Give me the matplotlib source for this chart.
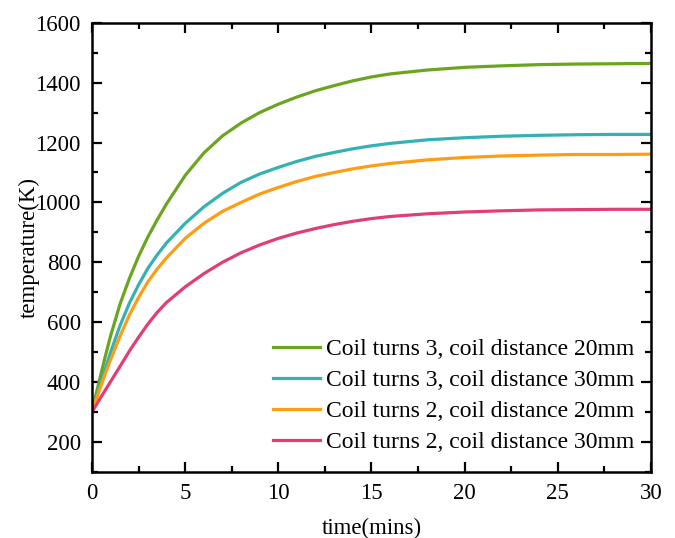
import matplotlib.pyplot as plt
from matplotlib.ticker import MultipleLocator

plt.rcParams['font.family'] = ['Liberation Serif', 'DejaVu Serif']

# time (mins)
t = [0, 0.25, 0.5, 0.75, 1, 1.5, 2, 2.5, 3, 3.5, 4, 5, 6, 7, 8, 9, 10, 11, 12, 13, 14, 15, 16,
     18, 20, 22, 24, 26, 28, 30]

# temperature (K)
turns3_20mm = [300, 368, 432, 495, 555, 660, 745, 820, 885, 942, 995, 1090, 1165, 1222, 1265, 1300, 1328,
               1352, 1373, 1390, 1406, 1419, 1429, 1442, 1451, 1456, 1460, 1462, 1463, 1464]
turns3_30mm = [300, 352, 402, 452, 500, 588, 663, 725, 780, 825, 865, 930, 985, 1030, 1067, 1095, 1117,
               1137, 1154, 1167, 1179, 1189, 1197, 1209, 1216, 1221, 1224, 1226, 1227, 1227]
turns2_20mm = [300, 346, 391, 434, 475, 553, 623, 683, 735, 778, 815, 880, 930, 970, 1000, 1028, 1050,
               1070, 1087, 1100, 1112, 1122, 1130, 1142, 1150, 1155, 1158, 1160, 1160, 1161]
turns2_30mm = [300, 326, 352, 377, 402, 452, 503, 550, 594, 633, 666, 718, 762, 800, 832, 858, 880,
               898, 913, 926, 937, 946, 953, 962, 968, 972, 975, 976, 977, 977]

labels = ['Coil turns 3, coil distance 20mm', 'Coil turns 3, coil distance 30mm',
          'Coil turns 2, coil distance 20mm', 'Coil turns 2, coil distance 30mm']
colors = ['#6BA520', '#34B1B3', '#FF9D12', '#E23E76']

fig = plt.figure(figsize=(6.75, 5.38), dpi=100)
ax = fig.add_axes([0.1363, 0.1227, 0.8281, 0.8351])

for y, lab, c in zip([turns3_20mm, turns3_30mm, turns2_20mm, turns2_30mm], labels, colors):
    ax.plot(t, y, color=c, lw=2.3, label=lab)

ax.set_xlim(0, 30)
ax.set_ylim(100, 1600)
ax.xaxis.set_major_locator(MultipleLocator(5))
ax.xaxis.set_minor_locator(MultipleLocator(2.5))
ax.yaxis.set_major_locator(MultipleLocator(200))
ax.yaxis.set_minor_locator(MultipleLocator(100))
ax.tick_params(which='both', direction='in', top=True, right=True, labelsize=16.5, width=1.6)
ax.tick_params(which='major', length=7, pad=8)
ax.tick_params(which='minor', length=4)
for s in ax.spines.values():
    s.set_linewidth(1.8)

ax.set_xlabel('time(mins)', fontsize=16.5, labelpad=10)
ax.set_ylabel('temperature(K)', fontsize=16.5, labelpad=-3)

ax.legend(loc='lower right', bbox_to_anchor=(1.0, 0.005), frameon=False, fontsize=17,
          handlelength=2.0, handletextpad=0.25, labelspacing=0.4, borderpad=0.2)

fig.savefig('out.png', dpi=100)
